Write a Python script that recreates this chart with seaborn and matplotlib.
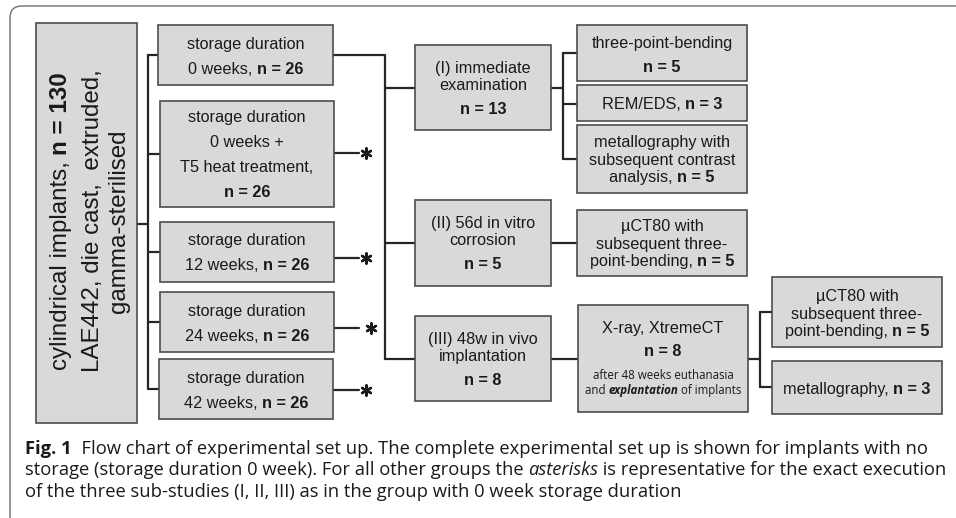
import matplotlib
matplotlib.use('Agg')
import matplotlib.pyplot as plt
import seaborn as sns
from matplotlib.patches import Rectangle, FancyBboxPatch

# ---- chart content ----
total_n = 130
material_lines = ["LAE442, die cast,  extruded,", "gamma-sterilised"]
storage_labels = ["0 weeks, ", "0 weeks +\nT5 heat treatment,\n", "12 weeks, ",
                  "24 weeks, ", "42 weeks, "]
storage_n = [26, 26, 26, 26, 26]
study_labels = ["(I) immediate\nexamination\n", "(II) 56d in vitro\ncorrosion\n",
                "(III) 48w in vivo\nimplantation\n"]
study_n = [13, 5, 8]
immediate_labels = ["three-point-bending\n", "REM/EDS, ",
                    "metallography with\nsubsequent contrast\nanalysis, "]
immediate_n = [5, 3, 5]
corrosion_label = "µCT80 with\nsubsequent three-\npoint-bending, "
corrosion_n = 5
implant_label = "X-ray, XtremeCT\n"
implant_n = 8
explant_labels = ["µCT80 with\nsubsequent three-\npoint-bending, ", "metallography, "]
explant_n = [5, 3]
caption = [
    [("Fig. 1", "b"), ("  Flow chart of experimental set up. The complete experimental "
                       "set up is shown for implants with no", "")],
    [("storage (storage duration 0 week). For all other groups the ", ""),
     ("asterisks", "i"), (" is representative for the exact execution", "")],
    [("of the three sub-studies (I, II, III) as in the group with 0 week storage duration", "")],
]

# ---- layout (pixels) ----
W, H = 956, 518
FILL = '#d9d9d9'
EDGE = '#4d4d4d'
LINE = '#262626'
BOX_FONT = 'Liberation Sans'
CAP_FONT = 'Open Sans'
BOX_FS = 11.7

storage_boxes = [(158, 25, 333, 85), (160, 101, 334, 207), (160, 222, 334, 282),
                 (160, 292, 334, 352), (159, 359, 333, 419)]
storage_rows = [[18, 43], [15, 40, 65, 90], [17, 42], [18, 43], [18, 43]]
study_boxes = [(415, 45, 551, 130), (415, 200, 551, 286), (415, 316, 551, 401)]
study_rows = [22, 39, 63]
immediate_boxes = [(577, 25, 747, 81), (577, 85, 747, 121), (577, 125, 747, 193)]
immediate_rows = [[17, 41], [18], [16, 34, 51]]
corrosion_box = (577, 210, 747, 276)
implant_box = (578, 305, 748, 412)
explant_boxes = [(772, 277, 942, 347), (772, 361, 942, 414)]
explant_rows = [[18, 36, 53], [27]]

sns.set_theme(style='white')
fig = plt.figure(figsize=(W / 100, H / 100), dpi=100)
ax = fig.add_axes([0, 0, 1, 1])
renderer = fig.canvas.get_renderer()


def px(pt):
    return pt * 100 / 72


def text_width(s, size, family, weight, style):
    t = ax.text(0, 0, s + 'I', fontsize=size, family=family, weight=weight, style=style)
    r = ax.text(0, 0, 'I', fontsize=size, family=family, weight=weight, style=style)
    w = t.get_window_extent(renderer).width - r.get_window_extent(renderer).width
    t.remove()
    r.remove()
    return w


def rich(x, y, parts, size, family=BOX_FONT, align='center', rotate=False):
    specs = []
    for s, st in parts:
        weight = 'bold' if 'b' in st else 'normal'
        style = 'italic' if 'i' in st else 'normal'
        specs.append((s, weight, style, text_width(s, size, family, weight, style)))
    total = sum(sp[3] for sp in specs)
    pos = -total / 2 if align == 'center' else 0
    base = 0.36 * px(size)
    for s, weight, style, w in specs:
        if rotate:
            ax.text(x + base, y - pos, s, fontsize=size, family=family, weight=weight,
                    style=style, rotation=90, rotation_mode='anchor', ha='left',
                    va='baseline', color='#1a1a1a')
        else:
            ax.text(x + pos, y + base, s, fontsize=size, family=family, weight=weight,
                    style=style, ha='left', va='baseline', color='#1a1a1a')
        pos += w


def n_parts(line):
    if 'n = ' in line:
        i = line.index('n = ')
        return [p for p in [(line[:i], ''), (line[i:], 'b')] if p[0]]
    return [(line, '')]


def box(b, label=None, n=None, rows=None, size=BOX_FS):
    x0, y0, x1, y1 = b
    ax.add_patch(Rectangle((x0, y0), x1 - x0, y1 - y0, facecolor=FILL,
                           edgecolor=EDGE, lw=1.2, zorder=2))
    if label is None:
        return
    lines = (label + f'n = {n}').split('\n')
    for line, r in zip(lines, rows):
        rich((x0 + x1) / 2, y0 + r, n_parts(line), size)


def connect(xs, ys):
    sns.lineplot(x=xs, y=ys, ax=ax, color=LINE, lw=1.6, sort=False,
                 estimator=None, zorder=1)


# outer frame
ax.add_patch(FancyBboxPatch((10, 6), 990, 560, boxstyle='round,pad=0,rounding_size=12',
                            facecolor='none', edgecolor='#7a7a7a', lw=1.1))

# left source box
box((36, 23, 137, 423))
rich(58, 221, [("cylindrical implants, ", ""), (f"n = {total_n}", "b")], 17.4, rotate=True)
rich(90, 221, [(material_lines[0], "")], 17.4, rotate=True)
rich(116, 221, [(material_lines[1], "")], 17.4, rotate=True)

# storage boxes
for b, lab, n, rows in zip(storage_boxes, storage_labels, storage_n, storage_rows):
    box(b, 'storage duration\n' + lab, n, rows)
for b, lab, n in zip(study_boxes, study_labels, study_n):
    box(b, lab, n, study_rows)
for b, lab, n, rows in zip(immediate_boxes, immediate_labels, immediate_n, immediate_rows):
    box(b, lab, n, rows)
box(corrosion_box, corrosion_label, corrosion_n, [15, 33, 50])
box(implant_box, implant_label, implant_n, [22, 45])
ix = (implant_box[0] + implant_box[2]) / 2
rich(ix, implant_box[1] + 70, [("after 48 weeks euthanasia", "")], 8.3, family=CAP_FONT)
rich(ix, implant_box[1] + 85, [("and ", ""), ("explantation", "bi"), (" of implants", "")],
     8.3, family=CAP_FONT)
for b, lab, n, rows in zip(explant_boxes, explant_labels, explant_n, explant_rows):
    box(b, lab, n, rows)

# connectors
connect([137, 148], [224, 224])
connect([148, 148], [55, 389])
for b, yc in zip(storage_boxes, [55, 154, 252, 322, 389]):
    connect([148, b[0]], [yc, yc])
star_x = [366, 366, 371, 366]
star_y = [153, 258, 328, 390]
for b, yc in zip(storage_boxes[1:], star_y):
    connect([b[2], 359], [yc, yc])
sns.scatterplot(x=star_x, y=star_y, ax=ax, marker=(6, 2, 0), s=55, color='#1a1a1a',
                linewidth=1.7, zorder=3)
connect([333, 385, 385], [55, 55, 359])
for yc in [88, 243, 359]:
    connect([385, 415], [yc, yc])
connect([551, 563], [88, 88])
connect([563, 563], [53, 159])
for yc in [53, 104, 159]:
    connect([563, 577], [yc, yc])
connect([551, 577], [243, 243])
connect([551, 578], [359, 359])
connect([748, 760], [359, 359])
connect([760, 760], [312, 387])
for yc in [312, 387]:
    connect([760, 772], [yc, yc])

# caption
for parts, yb in zip(caption, [447, 468.5, 490]):
    rich(25, yb, parts, 13.2, family=CAP_FONT, align='left')

ax.set_xlim(0, W)
ax.set_ylim(H, 0)
ax.axis('off')
fig.savefig('out.png', dpi=100)
